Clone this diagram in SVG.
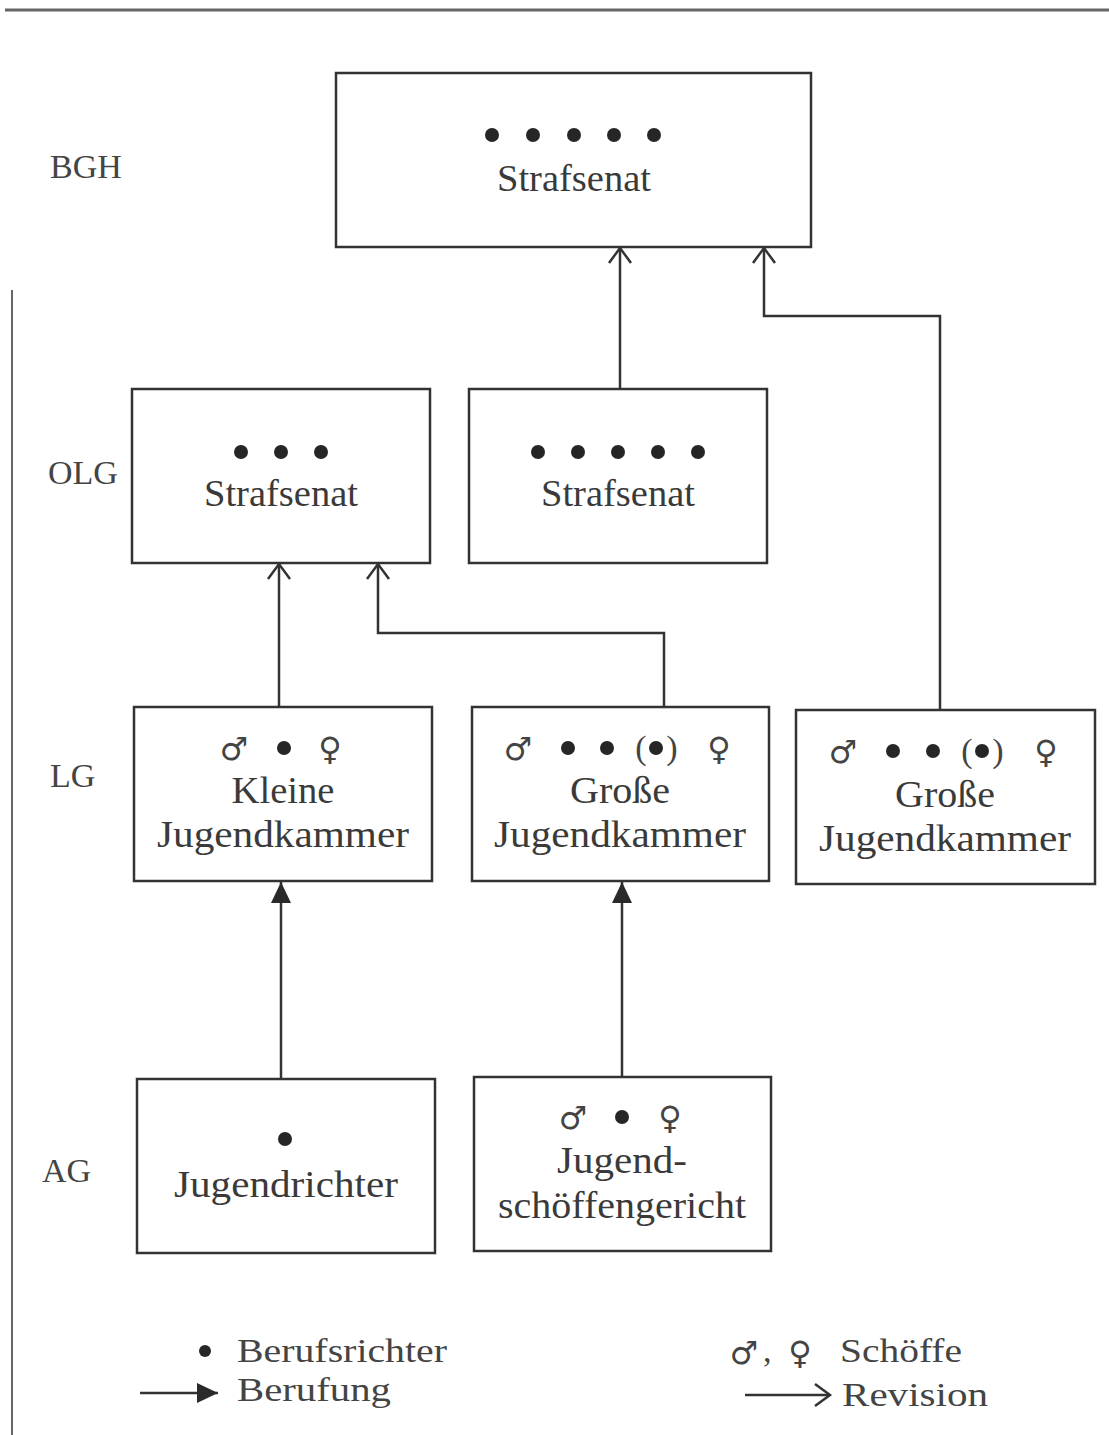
<svg xmlns="http://www.w3.org/2000/svg" width="1109" height="1435" viewBox="0 0 1109 1435">
<style>
.box{fill:#fff;stroke:#333;stroke-width:2.5}
.t{font-family:"Liberation Serif","Times New Roman",serif;font-size:37px;fill:#3a3a3a;text-anchor:middle}
.lv{font-family:"Liberation Serif","Times New Roman",serif;font-size:34px;fill:#444}
.sym{font-family:"DejaVu Sans",sans-serif;font-size:32px;fill:#444;text-anchor:middle}
.par{font-family:"Liberation Serif",serif;font-size:34px;fill:#444;text-anchor:middle}
.dot{fill:#262626}
.rev{fill:none;stroke:#333;stroke-width:2.5;marker-end:url(#open)}
.ber{fill:none;stroke:#333;stroke-width:2.5;marker-end:url(#filled)}
.frame{stroke:#666;fill:none}
</style>
<defs>
<marker id="open" markerUnits="userSpaceOnUse" viewBox="-16 -11 18 22" refX="0" refY="0" markerWidth="18" markerHeight="22" orient="auto" overflow="visible">
<path d="M -15 -11 L 0 0 L -15 11" fill="none" stroke="#333" stroke-width="2.5"/>
</marker>
<marker id="filled" markerUnits="userSpaceOnUse" viewBox="-22 -11 23 22" refX="0" refY="0" markerWidth="23" markerHeight="22" orient="auto" overflow="visible">
<path d="M -21 -10 L 0 0 L -21 10 Z" fill="#2a2a2a"/>
</marker>
</defs>
<rect width="1109" height="1435" fill="#fff"/>
<g id="frame">
<line class="frame" x1="5" y1="10" x2="1109" y2="10" stroke-width="3"/>
<line class="frame" x1="12" y1="290" x2="12" y2="1435" stroke-width="2" stroke="#888"/>
</g>
<g id="levels">
<text class="lv" x="50" y="178">BGH</text>
<text class="lv" x="48" y="484">OLG</text>
<text class="lv" x="50" y="787">LG</text>
<text class="lv" x="42" y="1182">AG</text>
</g>
<g id="connectors">
<path class="rev" d="M620 389 V248"/>
<path class="rev" d="M940 710 V316 H764 V248"/>
<path class="rev" d="M279 707 V564"/>
<path class="rev" d="M664 707 V633 H378 V564"/>
<path class="ber" d="M281 1079 V882"/>
<path class="ber" d="M622 1077 V882"/>
</g>
<g id="bgh">
<rect class="box" x="336" y="73" width="475" height="174"/>
<circle class="dot" cx="492" cy="135" r="7"/><circle class="dot" cx="533" cy="135" r="7"/><circle class="dot" cx="574" cy="135" r="7"/><circle class="dot" cx="614" cy="135" r="7"/><circle class="dot" cx="654" cy="135" r="7"/>
<text class="t" x="574" y="191" textLength="154" lengthAdjust="spacingAndGlyphs">Strafsenat</text>
</g>
<g id="olg1">
<rect class="box" x="132" y="389" width="298" height="174"/>
<circle class="dot" cx="241" cy="452" r="7"/><circle class="dot" cx="281" cy="452" r="7"/><circle class="dot" cx="321" cy="452" r="7"/>
<text class="t" x="281" y="506" textLength="154" lengthAdjust="spacingAndGlyphs">Strafsenat</text>
</g>
<g id="olg2">
<rect class="box" x="469" y="389" width="298" height="174"/>
<circle class="dot" cx="538" cy="452" r="7"/><circle class="dot" cx="578" cy="452" r="7"/><circle class="dot" cx="618" cy="452" r="7"/><circle class="dot" cx="658" cy="452" r="7"/><circle class="dot" cx="698" cy="452" r="7"/>
<text class="t" x="618" y="506" textLength="154" lengthAdjust="spacingAndGlyphs">Strafsenat</text>
</g>
<g id="lg1">
<rect class="box" x="134" y="707" width="298" height="174"/>
<text class="sym" x="234" y="760">♂</text>
<circle class="dot" cx="284" cy="748" r="7"/>
<text class="sym" x="330" y="760">♀</text>
<text class="t" x="283" y="803" textLength="103" lengthAdjust="spacingAndGlyphs">Kleine</text>
<text class="t" x="283" y="847" textLength="252" lengthAdjust="spacingAndGlyphs">Jugendkammer</text>
</g>
<g id="lg2">
<rect class="box" x="472" y="707" width="297" height="174"/>
<text class="sym" x="518" y="760">♂</text>
<circle class="dot" cx="568" cy="748" r="7"/><circle class="dot" cx="607" cy="748" r="7"/>
<text class="par" x="641" y="759">(</text><circle class="dot" cx="656" cy="748" r="7"/><text class="par" x="672" y="759">)</text>
<text class="sym" x="719" y="760">♀</text>
<text class="t" x="620" y="803" textLength="100" lengthAdjust="spacingAndGlyphs">Große</text>
<text class="t" x="620" y="847" textLength="252" lengthAdjust="spacingAndGlyphs">Jugendkammer</text>
</g>
<g id="lg3">
<rect class="box" x="796" y="710" width="299" height="174"/>
<text class="sym" x="843" y="763">♂</text>
<circle class="dot" cx="893" cy="751" r="7"/><circle class="dot" cx="933" cy="751" r="7"/>
<text class="par" x="967" y="762">(</text><circle class="dot" cx="982" cy="751" r="7"/><text class="par" x="998" y="762">)</text>
<text class="sym" x="1046" y="763">♀</text>
<text class="t" x="945" y="807" textLength="100" lengthAdjust="spacingAndGlyphs">Große</text>
<text class="t" x="945" y="851" textLength="252" lengthAdjust="spacingAndGlyphs">Jugendkammer</text>
</g>
<g id="ag1">
<rect class="box" x="137" y="1079" width="298" height="174"/>
<circle class="dot" cx="285" cy="1139" r="7"/>
<text class="t" x="286" y="1197" textLength="224" lengthAdjust="spacingAndGlyphs">Jugendrichter</text>
</g>
<g id="ag2">
<rect class="box" x="474" y="1077" width="297" height="174"/>
<text class="sym" x="573" y="1129">♂</text>
<circle class="dot" cx="622" cy="1117" r="7"/>
<text class="sym" x="670" y="1129">♀</text>
<text class="t" x="622" y="1173" textLength="130" lengthAdjust="spacingAndGlyphs">Jugend-</text>
<text class="t" x="622" y="1218" textLength="248" lengthAdjust="spacingAndGlyphs">schöffengericht</text>
</g>
<g id="legend">
<circle class="dot" cx="205" cy="1351" r="6"/>
<text class="lv" x="237" y="1362" textLength="210" lengthAdjust="spacingAndGlyphs">Berufsrichter</text>
<path class="ber" d="M140 1393 H218"/>
<text class="lv" x="237" y="1401" textLength="154" lengthAdjust="spacingAndGlyphs">Berufung</text>
<text class="sym" x="744" y="1364">♂</text>
<text class="lv" x="763" y="1362">,</text>
<text class="sym" x="800" y="1364">♀</text>
<text class="lv" x="840" y="1362" textLength="122" lengthAdjust="spacingAndGlyphs">Schöffe</text>
<path class="rev" d="M745 1395 H830"/>
<text class="lv" x="842" y="1406" textLength="146" lengthAdjust="spacingAndGlyphs">Revision</text>
</g>
</svg>
